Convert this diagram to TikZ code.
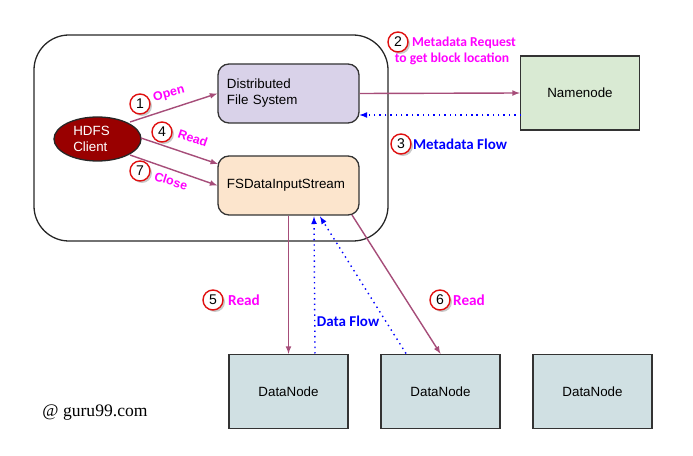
\documentclass[tikz,border=0pt]{standalone}
\usepackage{fontspec}
\setmainfont{Liberation Sans}
\newfontfamily\labelfont{Carlito}
\newfontfamily\markfont{Liberation Serif}
\usetikzlibrary{arrows,shapes.geometric,shadows}
\definecolor{dfscolor}{HTML}{D9D2E9}
\definecolor{fsdcolor}{HTML}{FCE5CD}
\definecolor{namecolor}{HTML}{D9EAD3}
\definecolor{datacolor}{HTML}{D0E0E3}
\definecolor{clientcolor}{HTML}{990000}
\definecolor{wirecolor}{HTML}{A64D79}
\definecolor{edgecolor}{HTML}{333333}
\definecolor{pinkcolor}{HTML}{FF00FF}
\definecolor{bluecolor}{HTML}{0000FF}
\definecolor{ringcolor}{HTML}{E01010}
\definecolor{haloColor}{HTML}{FFD0D0}
\tikzset{
         roundbox/.style={draw=edgecolor,line width=1.1pt,rounded corners=0.33cm,minimum width=4.23cm,minimum height=1.77cm,
                          text width=3.69cm,inner xsep=0.27cm,align=left,font=\fontsize{11.4}{13.6}\selectfont},
         squarebox/.style={draw=edgecolor,line width=1.1pt,minimum width=3.57cm,minimum height=2.22cm,font=\fontsize{11.4}{13.6}\selectfont},
         badge/.style={circle,draw=ringcolor,line width=1.2pt,inner sep=0pt,minimum size=0.6cm,
                       preaction={fill=black!35,opacity=0.6,transform canvas={xshift=0.06cm,yshift=-0.06cm}},
                       preaction={fill=white},
                       font=\fontsize{12}{12}\selectfont},
         pinktext/.style={text=pinkcolor,font=\labelfont\bfseries\fontsize{11.6}{13}\selectfont},
         slanttext/.style={text=pinkcolor,inner sep=0pt,font=\bfseries\fontsize{10.6}{13}\selectfont},
         readtext/.style={text=pinkcolor,font=\labelfont\bfseries\fontsize{13}{13}\selectfont},
         bluetext/.style={text=bluecolor,font=\labelfont\bfseries\fontsize{12.8}{13}\selectfont},
         wire/.style={draw=wirecolor,line width=1.2pt,-latex},
         flow/.style={draw=bluecolor,line width=1.2pt,dash pattern=on 1.2pt off 3.4pt,-latex}
        }
\begin{document}
\begin{tikzpicture}[x=0.03cm,y=-0.03cm]
      \useasboundingbox (0,0) rectangle (693,456);
      \node[draw=black!85,line width=1.1pt,rounded corners=1.05cm,minimum width=10.62cm,minimum height=6.18cm] (cluster) at (211,138) {}; % client side frame
      \node[ellipse,draw=black!85,line width=1.1pt,fill=clientcolor,text=white,inner sep=0pt,minimum width=2.61cm,minimum height=1.32cm,align=left,font=\fontsize{11.4}{13.6}\selectfont] (client) at (97.5,139) {\hspace*{-0.36cm}HDFS\\\hspace*{-0.36cm}Client}; % client
      \node[roundbox,fill=dfscolor] (dfs) at (288.5,93.5) {Distributed\\File System}; % upper box
      \node[roundbox,fill=fsdcolor] (fsd) at (288.5,185.5) {FSDataInputStream}; % lower box
      \node[squarebox,fill=namecolor] (namenode) at (580,93) {Namenode}; % namenode
      \node[squarebox,fill=datacolor] (dnone) at (288.5,391.5) {DataNode}; % left datanode
      \node[squarebox,fill=datacolor] (dntwo) at (440.5,391.5) {DataNode}; % middle datanode
      \node[squarebox,fill=datacolor] (dnthree) at (592.5,391.5) {DataNode}; % right datanode
      \coordinate (readend) at (218,164); % Read arrow end
      \coordinate (closestart) at (130,155); % Close arrow start
      \coordinate (openstart) at (130,122); % Open arrow start
      \coordinate (readstart) at (141,138); % Read arrow start
      \coordinate (metaout) at (521,115); % dotted arrow start
      \coordinate (metain) at (359.5,115); % dotted arrow end
      \coordinate (fsdoutsix) at (352,215); % Read 6 start
      \coordinate (dnonetop) at (315,353.5); % Data flow start
      \coordinate (fsdinone) at (314,216.5); % Data flow end
      \coordinate (dntwotop) at (406,353.5); % Data flow start
      \coordinate (fsdintwo) at (320,216.5); % Data flow end
      \draw[wire] (openstart) -- (dfs.west); % Wiring
      \draw[wire] (readstart) -- (readend); % Wiring
      \draw[wire] (closestart) -- (fsd.west); % Wiring
      \draw[wire] (dfs.east) -- (namenode.west); % Wiring
      \draw[flow] (metaout) -- (metain); % Metadata flow
      \draw[wire] (fsd.south) -- (dnone.north); % Wiring
      \draw[wire] (fsdoutsix) -- (dntwo.north); % Wiring
      \draw[flow] (dnonetop) -- (fsdinone); % Data flow
      \draw[flow] (dntwotop) -- (fsdintwo); % Data flow
      \node[badge] (stepone) at (140,104) {1}; % Open number
      \node[badge] (stepfour) at (162,132) {4}; % Read number
      \node[badge] (stepseven) at (140,171) {7}; % Close number
      \node[badge] (steptwo) at (398,42) {2}; % Request number
      \node[badge] (stepthree) at (401,144) {3}; % Metadata Flow number
      \node[badge] (stepfive) at (213,300) {5}; % Read number
      \node[badge] (stepsix) at (440,300) {6}; % Read number
      \node[slanttext,rotate=15] (opentext) at (169,94) {Open}; % Open label
      \node[slanttext,rotate=-19] (readtext) at (193,138) {Read}; % Read label
      \node[slanttext,rotate=-17] (closetext) at (171,181) {Close}; % Close label
      \node[pinktext] (requesttext) at (464,43) {Metadata Request}; % Request label
      \node[pinktext] (locationtext) at (452,59) {to get block location}; % Request label
      \node[bluetext] (metatext) at (460,144) {Metadata Flow}; % Metadata Flow label
      \node[readtext] (readfive) at (244,300) {Read}; % Read label
      \node[readtext] (readsix) at (469,300) {Read}; % Read label
      \node[bluetext] (dataflow) at (348,321) {Data Flow}; % Data Flow label
      \node[font=\markfont\fontsize{15}{16}\selectfont] (guru) at (95,413) {@ guru99.com}; % site mark
   \end{tikzpicture}
\end{document}
